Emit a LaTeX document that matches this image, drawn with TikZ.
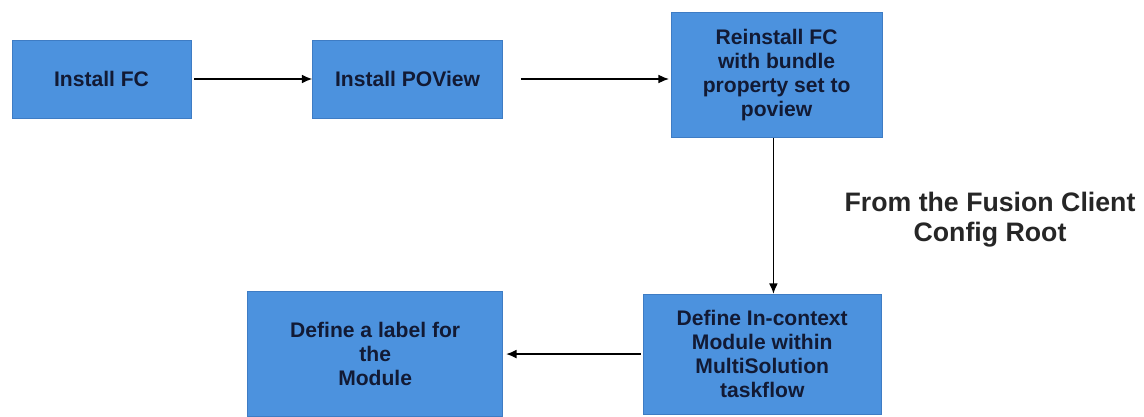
\documentclass[tikz,border=0pt]{standalone}
\usepackage{fontspec}
\setmainfont{Liberation Sans}
\usetikzlibrary{positioning, arrows.meta}
\definecolor{cajaAzul}{RGB}{76,146,222}
\definecolor{bordeAzul}{RGB}{62,124,196}
\definecolor{textoAzul}{RGB}{18,26,52}

\begin{document}
\begin{tikzpicture}[
    tarea/.style={
        rectangle,
        draw=bordeAzul,
        fill=cajaAzul,
        text=textoAzul,
        font=\bfseries\fontsize{15}{17}\selectfont,
        align=center,
        inner sep=0pt
    },
    nota/.style={
        align=center,
        font=\bfseries\fontsize{19}{21.5}\selectfont,
        text=black!85
    },
    flecha/.style={
        -{Latex[length=2.6mm, width=2.2mm]},
        line width=0.9pt
    }
]
    \useasboundingbox (0,0) rectangle (28.6,-10.425);

    \node[tarea, minimum width=4.475cm, minimum height=1.95cm] (fc) at (2.5375,-1.975) {Install FC};
    \node[tarea, minimum width=4.75cm, minimum height=1.95cm, right=3.025cm of fc] (poview) {Install POView};
    \node[tarea, minimum width=5.275cm, minimum height=3.125cm, right=4.2cm of poview, yshift=0.1cm] (reinstall) {Reinstall FC\\with bundle\\property set to\\poview};
    \node[tarea, minimum width=5.95cm, minimum height=3.0cm, below=3.9cm of reinstall, xshift=-0.36cm] (incontext) {Define In-context\\Module within\\MultiSolution\\taskflow};
    \node[tarea, minimum width=6.375cm, minimum height=3.125cm, left=3.5cm of incontext] (label) {Define a label for\\the\\Module};

    \node[nota] (root) at (24.75,-5.5) {From the Fusion Client\\Config Root};

    \draw[flecha] ([xshift=0.08cm]fc.east) -- (poview.west);
    \draw[flecha] ([xshift=0.45cm]poview.east) -- ([xshift=-0.05cm]poview.east -| reinstall.west);
    \draw[flecha] ([xshift=-0.08cm]reinstall.south) -- ([xshift=-0.08cm]reinstall.south |- incontext.north);
    \draw[flecha] ([xshift=-0.05cm]incontext.west) -- ([xshift=0.08cm]label.east);

\end{tikzpicture}
\end{document}
